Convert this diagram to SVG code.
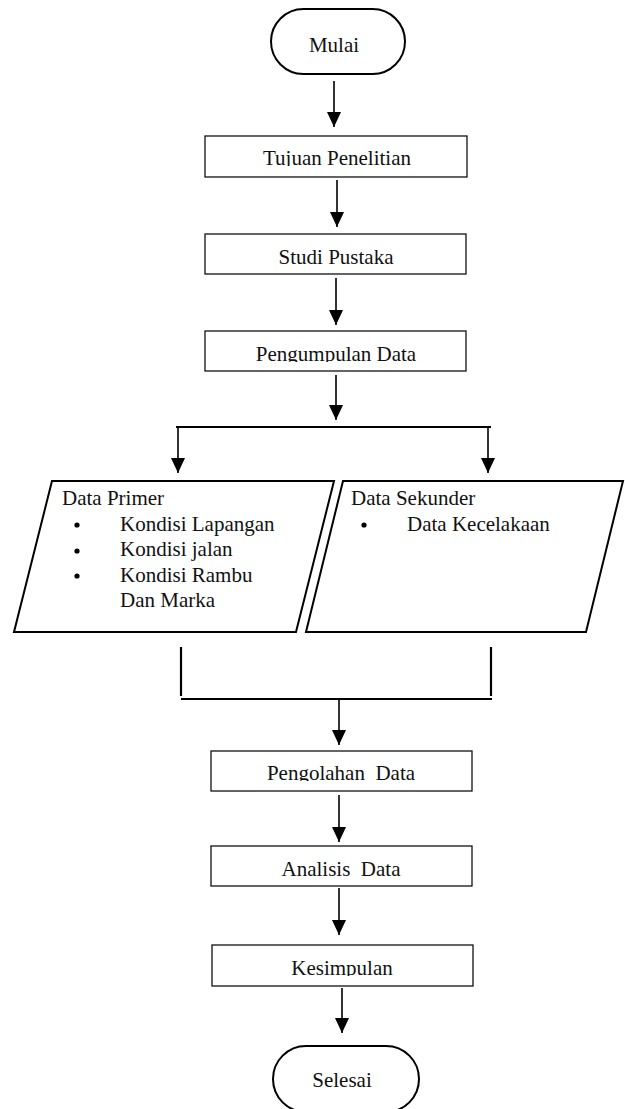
<svg xmlns="http://www.w3.org/2000/svg" width="625" height="1109" viewBox="0 0 625 1109">
<style>
  .t { font-family: "Liberation Serif", "Times New Roman", serif; font-size: 21px; fill: #111; white-space: pre; }
  .c { text-anchor: middle; }
  .box { fill: #fff; stroke: #111; stroke-width: 1.3; }
  .term { fill: #fff; stroke: #000; stroke-width: 2; }
  .para { fill: #fff; stroke: #000; stroke-width: 2; }
  .ln { fill: none; stroke: #000; stroke-width: 1.6; }
  .arr { fill: none; stroke: #000; stroke-width: 1.6; marker-end: url(#ah); }
  .thick { fill: none; stroke: #000; stroke-width: 2.2; }
</style>
<defs>
  <marker id="ah" viewBox="0 0 15 14" refX="15" refY="7" markerWidth="15" markerHeight="14" markerUnits="userSpaceOnUse" orient="auto">
    <path d="M0,0 L15,7 L0,14 Z" fill="#000"/>
  </marker>
  <clipPath id="c1"><rect x="205" y="136" width="262" height="30"/></clipPath>
  <clipPath id="c3"><rect x="205" y="331" width="261" height="31"/></clipPath>
  <clipPath id="c4"><rect x="211" y="751" width="261" height="30"/></clipPath>
  <clipPath id="c6"><rect x="212" y="945" width="261" height="31"/></clipPath>
</defs>

<g id="mulai">
  <rect class="term" x="271" y="9" width="134" height="65" rx="32.5" ry="32.5"/>
  <text class="t c" x="334" y="52">Mulai</text>
</g>

<g id="tujuan">
  <rect class="box" x="205" y="136" width="262" height="41"/>
  <text class="t c" x="337" y="165" clip-path="url(#c1)">Tujuan Penelitian</text>
</g>

<g id="studi">
  <rect class="box" x="205" y="234" width="261" height="40"/>
  <text class="t c" x="336" y="264">Studi Pustaka</text>
</g>

<g id="pengumpulan">
  <rect class="box" x="205" y="331" width="261" height="40"/>
  <text class="t c" x="336" y="361" clip-path="url(#c3)">Pengumpulan Data</text>
</g>

<g id="primer">
  <polygon class="para" points="52,481 334,481 296,632 14,632"/>
  <text class="t" x="62" y="505">Data Primer</text>
  <circle cx="77" cy="525" r="2.6" fill="#000"/>
  <text class="t" x="120" y="531">Kondisi Lapangan</text>
  <circle cx="77" cy="551" r="2.6" fill="#000"/>
  <text class="t" x="120" y="556">Kondisi jalan</text>
  <circle cx="77" cy="576" r="2.6" fill="#000"/>
  <text class="t" x="120" y="582">Kondisi Rambu</text>
  <text class="t" x="120" y="607">Dan Marka</text>
</g>

<g id="sekunder">
  <polygon class="para" points="343,481 623,481 586,632 306,632"/>
  <text class="t" x="351" y="505">Data Sekunder</text>
  <circle cx="364" cy="525" r="2.6" fill="#000"/>
  <text class="t" x="407" y="531">Data Kecelakaan</text>
</g>

<g id="pengolahan">
  <rect class="box" x="211" y="751" width="261" height="40"/>
  <text class="t c" x="341" y="780" clip-path="url(#c4)">Pengolahan  Data</text>
</g>

<g id="analisis">
  <rect class="box" x="211" y="846" width="261" height="40"/>
  <text class="t c" x="341" y="876">Analisis  Data</text>
</g>

<g id="kesimpulan">
  <rect class="box" x="212" y="945" width="261" height="41"/>
  <text class="t c" x="342" y="975" clip-path="url(#c6)">Kesimpulan</text>
</g>

<g id="selesai">
  <rect class="term" x="273" y="1046" width="146" height="66" rx="33" ry="33"/>
  <text class="t c" x="342" y="1087">Selesai</text>
</g>

<g id="connectors">
  <line class="arr" x1="334" y1="81" x2="334" y2="127"/>
  <line class="arr" x1="337" y1="180" x2="337" y2="227"/>
  <line class="arr" x1="336" y1="278" x2="336" y2="325"/>
  <line class="arr" x1="336" y1="375" x2="336" y2="420"/>
  <line class="thick" x1="176" y1="427" x2="491" y2="427"/>
  <line class="arr" x1="178" y1="427" x2="178" y2="473"/>
  <line class="arr" x1="488" y1="427" x2="488" y2="473"/>
  <line class="thick" x1="181" y1="647" x2="181" y2="696"/>
  <line class="thick" x1="491" y1="647" x2="491" y2="696"/>
  <line class="thick" x1="181" y1="699" x2="492" y2="699"/>
  <line class="arr" x1="339" y1="699" x2="339" y2="745"/>
  <line class="arr" x1="339" y1="795" x2="339" y2="842"/>
  <line class="arr" x1="339" y1="888" x2="339" y2="935"/>
  <line class="arr" x1="342" y1="988" x2="342" y2="1033"/>
</g>
</svg>
